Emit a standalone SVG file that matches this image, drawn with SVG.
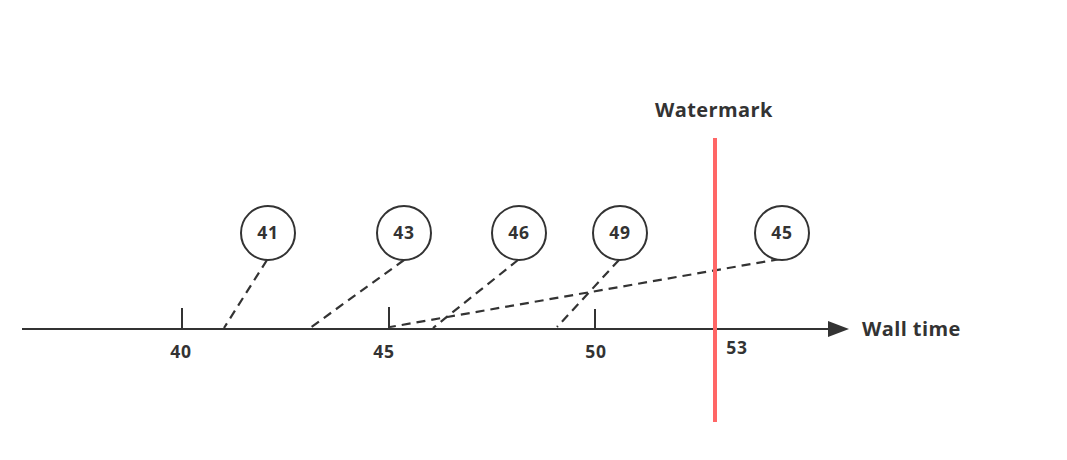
<svg xmlns="http://www.w3.org/2000/svg" width="1067" height="460" viewBox="0 0 1067 460">
<style>
text{font-family:"Open Sans","DejaVu Sans",sans-serif;font-weight:bold;fill:#333}
.n{font-size:17.5px;text-anchor:middle;letter-spacing:0.8px}
.lbl{font-size:20px;letter-spacing:0.4px}
.c{fill:#fff;stroke:#333;stroke-width:2}
.d{stroke:#333;stroke-width:2.2;stroke-dasharray:9 6;fill:none}
.t{stroke:#333;stroke-width:2}
</style>
<rect width="1067" height="460" fill="#fff"/>
<g id="axis">
<line x1="22" y1="329" x2="828" y2="329" class="t"/>
<path d="M828,321 L849,329 L828,337 z" fill="#333"/>
<line x1="182" y1="308" x2="182" y2="329" class="t"/>
<line x1="389" y1="307" x2="389" y2="329" class="t"/>
<line x1="595" y1="309" x2="595" y2="329" class="t"/>
<text x="181" y="358" class="n">40</text>
<text x="384" y="358" class="n">45</text>
<text x="596" y="358" class="n">50</text>
<text x="737" y="354" class="n">53</text>
<text x="862" y="336" class="lbl">Wall time</text>
</g>
<g id="connectors">
<line x1="267" y1="260" x2="224" y2="328" class="d"/>
<line x1="404" y1="260" x2="310" y2="328" class="d"/>
<line x1="518" y1="260" x2="433" y2="328" class="d"/>
<line x1="619" y1="260" x2="557" y2="327" class="d"/>
<line x1="780" y1="259" x2="390" y2="327" class="d"/>
</g>
<g id="watermark">
<line x1="715" y1="138" x2="715" y2="422" stroke="#FF6666" stroke-width="4"/>
<text x="655" y="117" class="lbl">Watermark</text>
</g>
<g id="e41"><circle cx="268" cy="233" r="27" class="c"/><text x="268" y="239" class="n">41</text></g>
<g id="e43"><circle cx="404" cy="233" r="27" class="c"/><text x="404" y="239" class="n">43</text></g>
<g id="e46"><circle cx="519" cy="233" r="27" class="c"/><text x="519" y="239" class="n">46</text></g>
<g id="e49"><circle cx="620" cy="233" r="27" class="c"/><text x="620" y="239" class="n">49</text></g>
<g id="e45"><circle cx="782" cy="233" r="27" class="c"/><text x="782" y="239" class="n">45</text></g>
</svg>
